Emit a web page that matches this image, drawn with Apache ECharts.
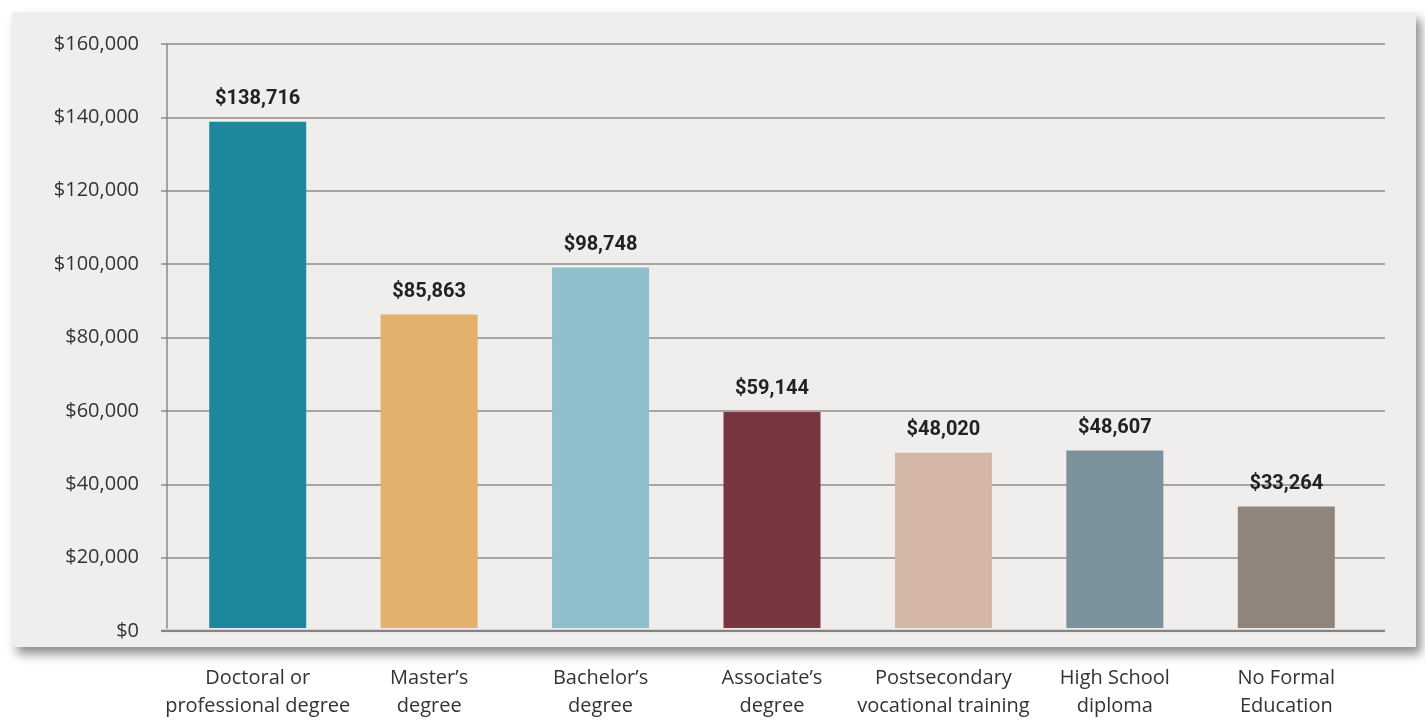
<!DOCTYPE html>
<html><head><meta charset="utf-8">
<script src="https://cdn.jsdelivr.net/npm/echarts@6/dist/echarts.min.js"></script>
<style>html,body{margin:0;padding:0;background:#fff;}#c{width:1425px;height:720px;}</style>
</head><body><div id="c"></div>
<script>
const categories = ["Doctoral or\nprofessional degree","Master’s\ndegree","Bachelor’s\ndegree","Associate’s\ndegree","Postsecondary\nvocational training","High School\ndiploma","No Formal\nEducation"];
const values = [138716, 85863, 98748, 59144, 48020, 48607, 33264];
const colors = ["#1b889b","#e2b16b","#8fbfcd","#773640","#d3b6a7","#7b929d","#91847b"];
const yTicks = {min:0, max:160000, interval:20000};

const chart = echarts.init(document.getElementById('c'));
const fmt = v => '$' + Number(v).toLocaleString('en-US');
chart.setOption({
  animation:false,
  graphic:[{type:'rect', z:-10, shape:{x:12,y:12,width:1404,height:635},
    style:{fill:'#efeeec', shadowBlur:10, shadowOffsetX:5, shadowOffsetY:7, shadowColor:'rgba(0,0,0,0.45)'}}],
  grid:[
    {left:172, right:53, top:44, bottom:89},
    {left:161, right:40, top:44, bottom:89}
  ],
  xAxis:[
    {type:'category', gridIndex:0, data:categories, axisLine:{show:false}, axisTick:{show:false},
     axisLabel:{margin:36, fontFamily:'Open Sans', fontSize:20, color:'#333', lineHeight:28, interval:0}},
    {type:'value', gridIndex:1, show:false, min:0, max:1}
  ],
  yAxis:[
    {type:'value', gridIndex:0, min:yTicks.min, max:yTicks.max, interval:yTicks.interval, offset:5,
     axisLine:{show:true, lineStyle:{color:'#8a8a8a', width:1.5}}, axisTick:{show:false}, axisLabel:{show:false}, splitLine:{show:false}},
    {type:'value', gridIndex:1, min:yTicks.min, max:yTicks.max, interval:yTicks.interval,
     axisLine:{show:false}, axisTick:{show:false},
     axisLabel:{margin:22, formatter:fmt, fontFamily:'Open Sans', fontSize:20, color:'#333'},
     splitLine:{show:true, lineStyle:{color:'#8c8c8c', width:1.5}}}
  ],
  series:[
    {type:'bar', xAxisIndex:0, yAxisIndex:0, barWidth:97, z:3,
     data: values.map((v,i)=>({value:v, itemStyle:{color:colors[i]}})),
     label:{show:true, position:'top', distance:13, formatter:p=>fmt(p.value), fontFamily:'Roboto', fontWeight:'bold', fontSize:20, color:'#222'}},
    {type:'line', xAxisIndex:1, yAxisIndex:1, data:[[0,0],[1,0]], symbol:'none', z:4, silent:true,
     lineStyle:{color:'#858585', width:2.5}}
  ]
});
</script></body></html>
